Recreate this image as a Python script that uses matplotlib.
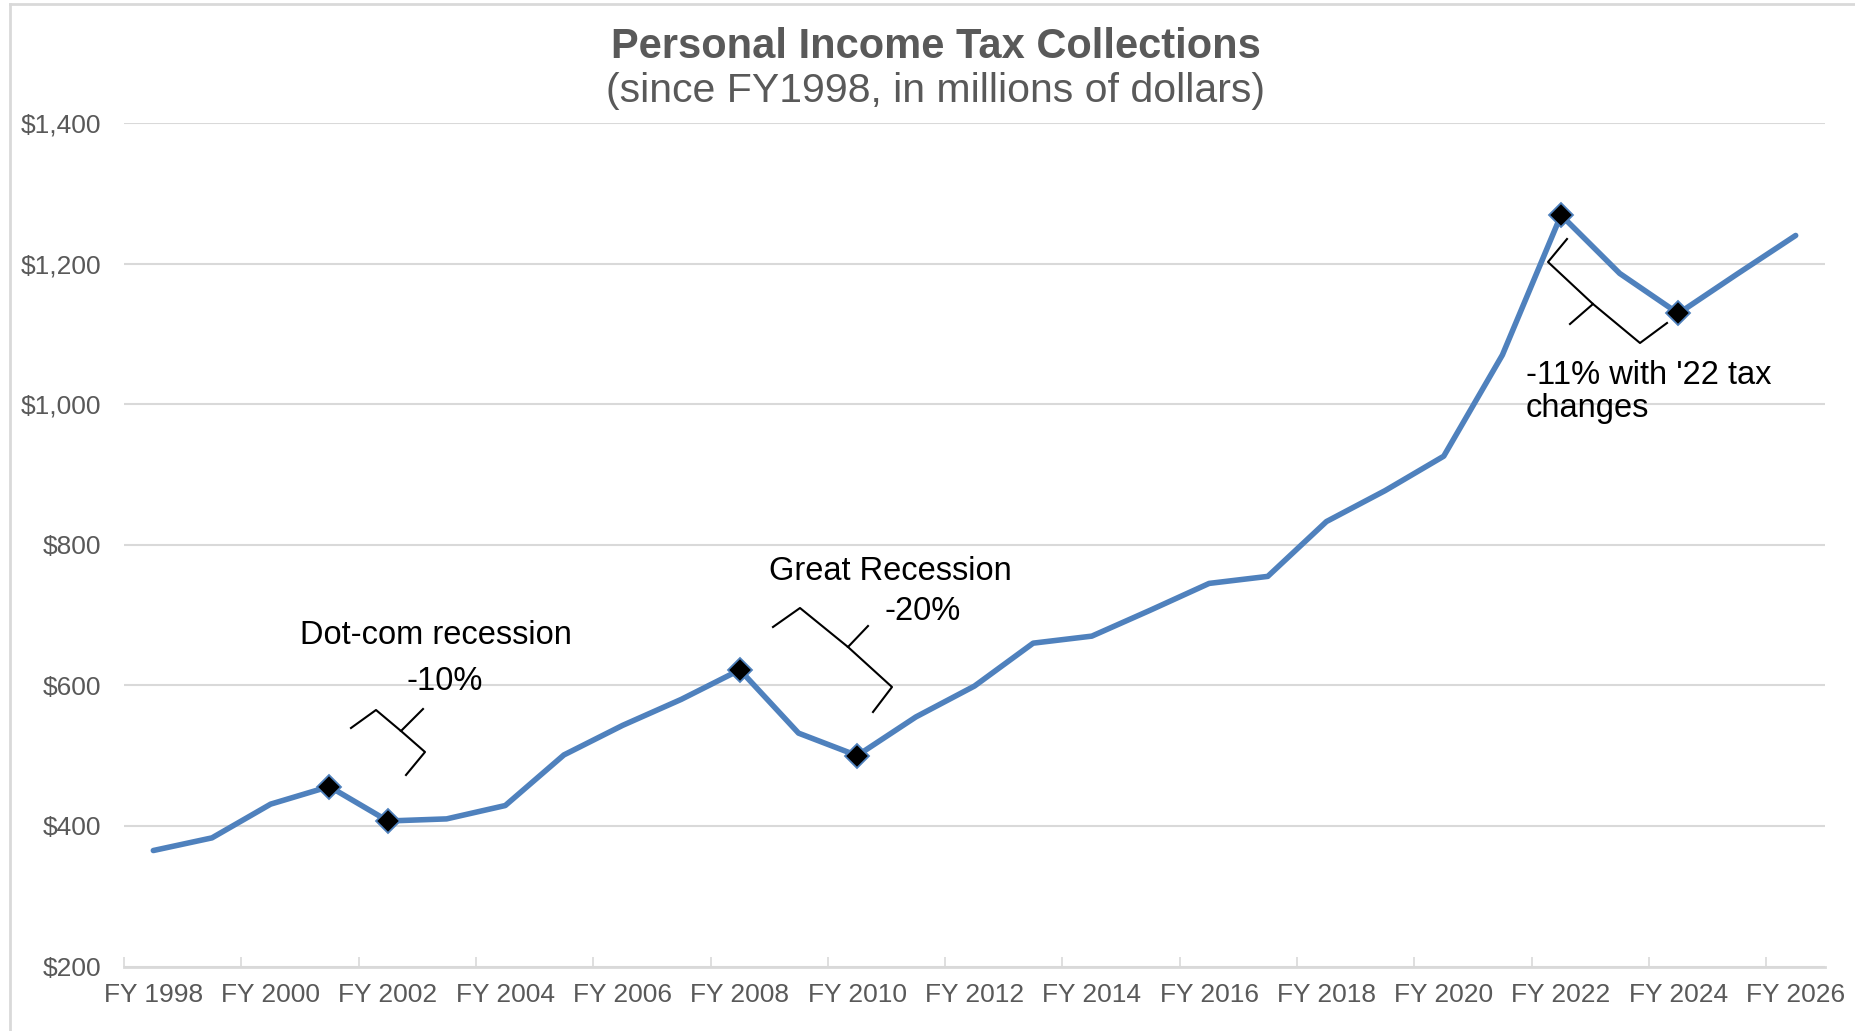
import matplotlib
matplotlib.use('Agg')  # sin ventanas
import matplotlib.pyplot as plt
from matplotlib.ticker import StrMethodFormatter, FixedLocator
from matplotlib.transforms import Affine2D
from matplotlib.lines import Line2D

# Datos (millones de dólares)
years = list(range(1998, 2027))
collections = [
    365, 383, 431, 456, 407, 410, 429, 501, 543, 580,
    622, 532, 500, 555, 599, 660, 670, 707, 745, 755,
    833, 877, 926, 1070, 1269, 1186, 1129, 1185, 1240,
]
marked_years = [2001, 2002, 2008, 2010, 2022, 2024]
y_ticks = [200, 400, 600, 800, 1000, 1200, 1400]

BLUE = '#4F81BD'
GRAY_TXT = '#595959'
GRID = '#D9D9D9'

plt.rcParams['font.family'] = ['Liberation Sans', 'DejaVu Sans']

W, H = 1855, 1031
fig = plt.figure(figsize=(W / 100, H / 100), dpi=100)
ax = fig.add_axes([124 / W, 1 - 966.5 / H, (1825 - 124) / W, (966.5 - 123) / H])

# transformación en píxeles de la imagen (origen arriba a la izquierda)
px = Affine2D().scale(1 / W, -1 / H).translate(0, 1) + fig.transFigure

idx = list(range(len(years)))
ax.plot(idx, collections, color=BLUE, lw=4, solid_capstyle='round', zorder=3)

mk = [years.index(y) for y in marked_years]
ax.plot(mk, [collections[i] for i in mk], linestyle='none', marker='D',
        markersize=12.5, markerfacecolor='black', markeredgecolor=BLUE,
        markeredgewidth=1.3, zorder=4)

# ejes
ax.set_xlim(-0.5, len(years) - 0.5)
ax.set_ylim(y_ticks[0], y_ticks[-1])
ax.set_yticks(y_ticks)
ax.yaxis.set_major_formatter(StrMethodFormatter('${x:,.0f}'))
ax.set_xticks(idx[::2])
ax.set_xticklabels([f'FY {y}' for y in years[::2]])
ax.xaxis.set_minor_locator(FixedLocator([i - 0.5 for i in idx[::2]]))

ax.tick_params(axis='y', length=0, pad=16.5, labelsize=19, labelcolor=GRAY_TXT)
ax.tick_params(axis='x', which='major', length=0, pad=12, labelsize=19,
               labelcolor=GRAY_TXT)
ax.tick_params(axis='x', which='minor', direction='in', length=7, width=1.2,
               color=GRID)

ax.grid(axis='y', color=GRID, lw=1.5)
ax.set_axisbelow(True)
for side in ['left', 'right', 'top']:
    ax.spines[side].set_visible(False)
ax.spines['bottom'].set_color(GRID)
ax.spines['bottom'].set_linewidth(2)

# títulos
fig.text(936, 47, 'Personal Income Tax Collections', transform=px, ha='center',
         va='center', fontsize=30, fontweight='bold', color=GRAY_TXT)
fig.text(936, 91, '(since FY1998, in millions of dollars)', transform=px,
         ha='center', va='center', fontsize=29.5, color=GRAY_TXT)

# llaves de anotación
braces = [
    [[(351, 728), (376, 710), (401, 731), (423, 709)],
     [(401, 731), (425, 752), (406, 775)]],
    [[(773, 627), (800, 608), (848, 647), (868, 626)],
     [(848, 647), (892, 687), (873, 712)]],
    [[(1567, 239), (1548, 262), (1593, 304), (1570, 324)],
     [(1593, 304), (1640, 343), (1667, 323)]],
]
for brace in braces:
    for seg in brace:
        xs, ys = zip(*seg)
        fig.add_artist(Line2D(xs, ys, transform=px, color='black', lw=1.5))

notes = [
    (436, 636, 'Dot-com recession', 'center'),
    (445, 682, '-10%', 'center'),
    (890, 571, 'Great Recession', 'center'),
    (923, 611, '-20%', 'center'),
    (1526, 375, "-11% with '22 tax", 'left'),
    (1526, 408, 'changes', 'left'),
]
for x, y, txt, ha in notes:
    fig.text(x, y, txt, transform=px, ha=ha, va='center', fontsize=23.5,
             color='black')

# borde del área del gráfico
fig.add_artist(Line2D([10, 10], [4, H], transform=px, color=GRID, lw=2))
fig.add_artist(Line2D([10, W], [4, 4], transform=px, color=GRID, lw=2))

fig.savefig('out.png', dpi=100)
